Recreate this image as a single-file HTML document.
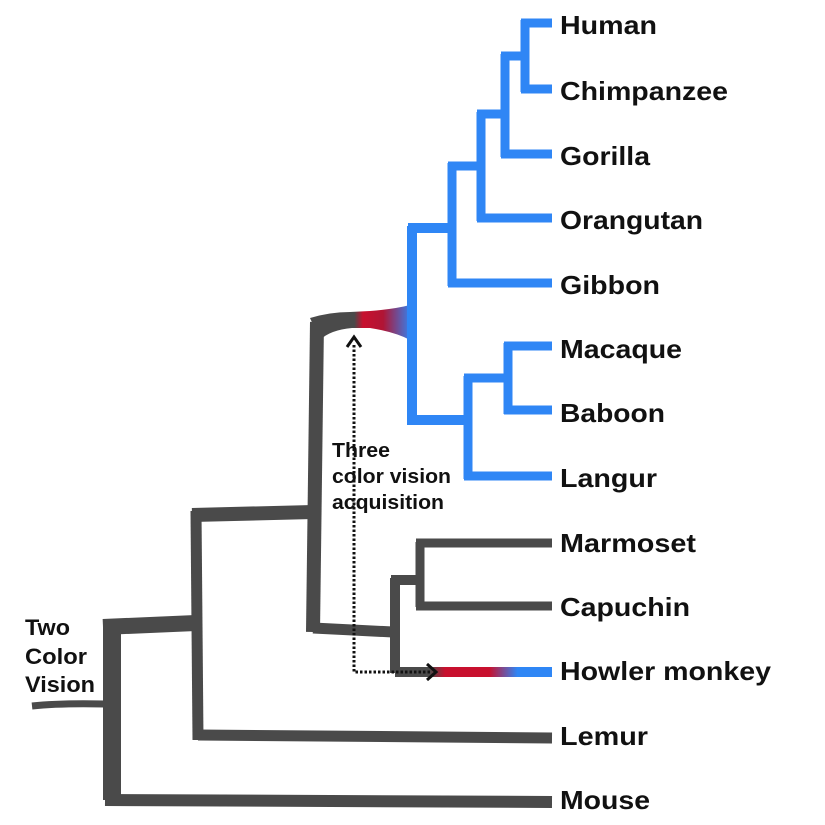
<!DOCTYPE html>
<html><head><meta charset="utf-8"><style>
html,body{margin:0;padding:0;background:#fff;}
svg{display:block;}
text{font-family:"Liberation Sans",Arial,sans-serif;font-weight:bold;fill:#111;}
</style></head><body>
<svg width="825" height="825" viewBox="0 0 825 825" xmlns="http://www.w3.org/2000/svg">
<defs>
<linearGradient id="g1" x1="340" y1="0" x2="412" y2="0" gradientUnits="userSpaceOnUse">
<stop offset="0" stop-color="#4a4a4a"/><stop offset="0.2" stop-color="#4a4a4a"/>
<stop offset="0.32" stop-color="#c8102e"/><stop offset="0.6" stop-color="#b01535"/>
<stop offset="1" stop-color="#2f86f5"/></linearGradient>
<linearGradient id="g2" x1="395" y1="0" x2="552" y2="0" gradientUnits="userSpaceOnUse">
<stop offset="0" stop-color="#4a4a4a"/><stop offset="0.22" stop-color="#4a4a4a"/>
<stop offset="0.32" stop-color="#c8102e"/><stop offset="0.6" stop-color="#c8102e"/>
<stop offset="0.78" stop-color="#2f86f5"/><stop offset="1" stop-color="#2f86f5"/></linearGradient>
</defs>
<g fill="none" stroke="#4a4a4a" stroke-linejoin="miter" stroke-linecap="butt">
<path d="M32 706 Q60 703 105 704" stroke-width="7"/>
<path d="M112 620 L112 800" stroke-width="18"/>
<path d="M103 627 L196 623" stroke-width="16"/>
<path d="M105 800 L552 802" stroke-width="12"/>
<path d="M196 511 L198 740" stroke-width="11"/>
<path d="M192 515 L313 512" stroke-width="14"/>
<path d="M198 735 L552 738" stroke-width="11"/>
<path d="M317 322 L313 632" stroke-width="14"/>
<path d="M313 628 L393 632" stroke-width="11"/>
<path d="M395 578 L395 673" stroke-width="10"/>
<path d="M391 580 L420 580" stroke-width="10"/>
<path d="M420 542 L420 607" stroke-width="9"/>
<path d="M416 543 L552 543" stroke-width="9"/>
<path d="M416 606 L552 606" stroke-width="9"/>
</g>
<path d="M310 318 Q330 312 350 312 L370 311 Q395 309 410 305 L410 340 Q395 332 370 328 L352 328 Q330 330 320 340 Z" fill="url(#g1)"/>
<path d="M395 672 L552 672" stroke="url(#g2)" stroke-width="10" fill="none"/>
<g fill="none" stroke="#2f86f5" stroke-linejoin="miter">
<path d="M412 226 L412 425" stroke-width="10"/>
<path d="M408 228 L453 228" stroke-width="10"/>
<path d="M408 420 L470 420" stroke-width="10"/>
<path d="M452 163 L452 286" stroke-width="9"/>
<path d="M448 166 L482 166" stroke-width="9"/>
<path d="M448 283 L552 283" stroke-width="9"/>
<path d="M481 112 L481 221" stroke-width="9"/>
<path d="M477 114 L507 114" stroke-width="9"/>
<path d="M477 218 L552 218" stroke-width="9"/>
<path d="M505 54 L505 157" stroke-width="9"/>
<path d="M501 56 L527 56" stroke-width="9"/>
<path d="M501 154 L552 154" stroke-width="9"/>
<path d="M525 20 L525 92" stroke-width="9"/>
<path d="M521 23 L552 23" stroke-width="9"/>
<path d="M521 89 L552 89" stroke-width="9"/>
<path d="M468 376 L468 479" stroke-width="9"/>
<path d="M464 378 L510 378" stroke-width="9"/>
<path d="M464 476 L552 476" stroke-width="9"/>
<path d="M508 343 L508 414" stroke-width="9"/>
<path d="M504 346 L552 346" stroke-width="9"/>
<path d="M504 410 L552 410" stroke-width="9"/>
</g>
<g fill="none" stroke="#111">
<path d="M354 345 L354 672 L432 672" stroke-width="3" stroke-dasharray="2.5 2"/>
<path d="M347 347 L354 337 L361 347" stroke-width="3"/>
<path d="M427 664 L436 672 L427 680" stroke-width="3"/>
</g>
<g font-size="26">
<text x="560" y="34" textLength="97" lengthAdjust="spacingAndGlyphs">Human</text>
<text x="560" y="100" textLength="168" lengthAdjust="spacingAndGlyphs">Chimpanzee</text>
<text x="560" y="165" textLength="90" lengthAdjust="spacingAndGlyphs">Gorilla</text>
<text x="560" y="229" textLength="143" lengthAdjust="spacingAndGlyphs">Orangutan</text>
<text x="560" y="294" textLength="100" lengthAdjust="spacingAndGlyphs">Gibbon</text>
<text x="560" y="358" textLength="122" lengthAdjust="spacingAndGlyphs">Macaque</text>
<text x="560" y="422" textLength="105" lengthAdjust="spacingAndGlyphs">Baboon</text>
<text x="560" y="487" textLength="97" lengthAdjust="spacingAndGlyphs">Langur</text>
<text x="560" y="552" textLength="136" lengthAdjust="spacingAndGlyphs">Marmoset</text>
<text x="560" y="616" textLength="130" lengthAdjust="spacingAndGlyphs">Capuchin</text>
<text x="560" y="680" textLength="211" lengthAdjust="spacingAndGlyphs">Howler monkey</text>
<text x="560" y="745" textLength="88" lengthAdjust="spacingAndGlyphs">Lemur</text>
<text x="560" y="809" textLength="90" lengthAdjust="spacingAndGlyphs">Mouse</text>
</g>
<g font-size="20">
<text x="332" y="457" textLength="58" lengthAdjust="spacingAndGlyphs">Three</text>
<text x="332" y="483" textLength="119" lengthAdjust="spacingAndGlyphs">color vision</text>
<text x="332" y="509" textLength="112" lengthAdjust="spacingAndGlyphs">acquisition</text>
</g>
<g font-size="22">
<text x="25" y="635" textLength="45" lengthAdjust="spacingAndGlyphs">Two</text>
<text x="25" y="664" textLength="62" lengthAdjust="spacingAndGlyphs">Color</text>
<text x="25" y="692" textLength="70" lengthAdjust="spacingAndGlyphs">Vision</text>
</g>
</svg>
</body></html>
